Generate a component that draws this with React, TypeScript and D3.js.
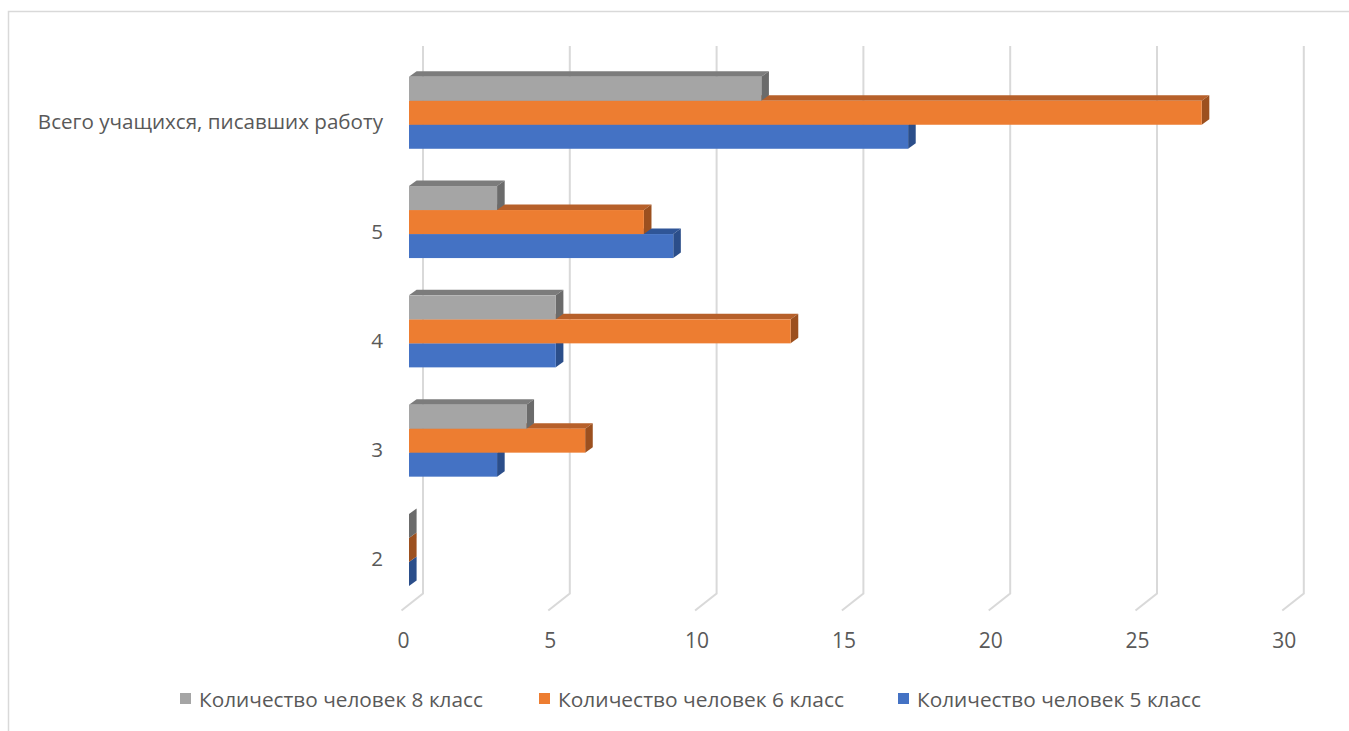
import React from "react";
import * as d3 from "d3";

const categories = ["Всего учащихся, писавших работу", "5", "4", "3", "2"];
const seriesNames = ["Количество человек 8 класс", "Количество человек 6 класс", "Количество человек 5 класс"];
const class8 = [12, 3, 5, 4, 0];
const class6 = [27, 8, 13, 6, 0];
const class5 = [17, 9, 5, 3, 0];
const xTicks = [0, 5, 10, 15, 20, 25, 30];

const series = [
  { name: seriesNames[0], values: class8, front: "#A5A5A5", top: "#7C7C7C", side: "#6B6B6B" },
  { name: seriesNames[1], values: class6, front: "#ED7D31", top: "#B7602A", side: "#9C501F" },
  { name: seriesNames[2], values: class5, front: "#4472C4", top: "#2F5597", side: "#2B4E8A" },
];

const W = 1349;
const H = 731;
const DX = 7.6;
const DY = -5.5;
const WALL_DX = 14;
const WALL_TOP = 46;
const WALL_BOTTOM = 593.5;
const FLOOR_DX = -21.5;
const FLOOR_DY = 17;
const FONT = "'Open Sans', sans-serif";
const TEXT = "#595959";

export default function App() {
  const x = d3.scaleLinear().domain([0, 30]).range([409, 409 + 30 * 29.36]);
  const y = d3
    .scaleBand<string>()
    .domain(categories)
    .range([58.1, 604.6])
    .paddingInner(0.341)
    .paddingOuter(0.1705);
  const ys = d3
    .scaleBand<string>()
    .domain(series.map((s) => s.name))
    .range([0, y.bandwidth()]);

  const bars: React.ReactNode[] = [];
  categories.forEach((c, ci) => {
    [...series].reverse().forEach((s) => {
      const v = s.values[ci];
      const x0 = x(0);
      const x1 = x(v);
      const yt = (y(c) as number) + (ys(s.name) as number);
      const yb = yt + ys.bandwidth();
      const key = `${ci}-${s.name}`;
      bars.push(
        <g key={key}>
          {v > 0 && (
            <polygon
              points={`${x0},${yt} ${x0 + DX},${yt + DY} ${x1 + DX},${yt + DY} ${x1},${yt}`}
              fill={s.top}
            />
          )}
          <polygon
            points={`${x1},${yt} ${x1 + DX},${yt + DY} ${x1 + DX},${yb + DY} ${x1},${yb}`}
            fill={s.side}
          />
          {v > 0 && <rect x={x0} y={yt} width={x1 - x0} height={yb - yt} fill={s.front} />}
        </g>
      );
    });
  });

  const legendItems = [
    { sq: 180, tx: 199, len: 284 },
    { sq: 539, tx: 558, len: 286 },
    { sq: 898, tx: 917, len: 284 },
  ];

  return (
    <svg
      width={W}
      height={H}
      style={{ position: "fixed", left: 0, top: 0, background: "#fff" }}
      fontFamily={FONT}
    >
      <rect x={8.5} y={11.5} width={W + 20} height={H + 20} fill="#fff" stroke="#D9D9D9" strokeWidth={1.5} />
      {xTicks.map((t) => {
        const bx = x(t) + WALL_DX;
        return (
          <g key={t}>
            <polyline
              points={`${bx},${WALL_TOP} ${bx},${WALL_BOTTOM} ${bx + FLOOR_DX},${WALL_BOTTOM + FLOOR_DY}`}
              fill="none"
              stroke="#D9D9D9"
              strokeWidth={2}
            />
            <text
              x={x(t) - 5.5}
              y={640}
              textAnchor="middle"
              dominantBaseline="central"
              fontSize={21}
              fill={TEXT}
            >
              {t}
            </text>
          </g>
        );
      })}
      {bars}
      {categories.map((c) => (
        <text
          key={c}
          x={383}
          y={(y(c) as number) + y.bandwidth() / 2 + 8.5}
          textAnchor="end"
          dominantBaseline="central"
          fontSize={20.6}
          fill={TEXT}
        >
          {c}
        </text>
      ))}
      {series.map((s, i) => (
        <g key={s.name}>
          <rect x={legendItems[i].sq} y={693} width={11} height={11} fill={s.front} />
          <text
            x={legendItems[i].tx}
            y={699}
            dominantBaseline="central"
            fontSize={20.5}
            fill={TEXT}
            textLength={legendItems[i].len}
            lengthAdjust="spacingAndGlyphs"
          >
            {s.name}
          </text>
        </g>
      ))}
    </svg>
  );
}
